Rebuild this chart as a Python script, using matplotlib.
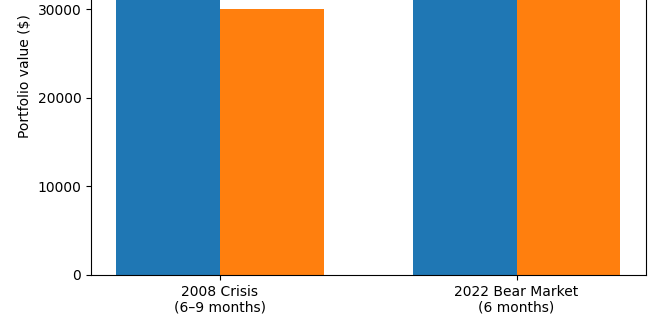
import numpy as np
import matplotlib.pyplot as plt

periods = ['2008 Crisis\n(6–9 months)', '2022 Bear Market\n(6 months)']
series_a = [42800, 40000]
series_b = [30000, 38000]

x = np.arange(len(periods))
width = 0.35

fig = plt.figure(figsize=(6.6, 3.3), dpi=100)
# tall axes: only the lower part of the bars fits in the figure
ax = fig.add_axes([91 / 660, 55 / 330, 554.5 / 660, 398.5 / 330])

ax.bar(x - width / 2, series_a, width, color='#1f77b4')
ax.bar(x + width / 2, series_b, width, color='#ff7f0e')

ax.set_ylim(0, 45000)
ax.set_yticks([0, 10000, 20000, 30000])
ax.set_xticks(x)
ax.set_xticklabels(periods)
ax.set_ylabel('Portfolio value ($)')

fig.savefig('out.png', dpi=100)
